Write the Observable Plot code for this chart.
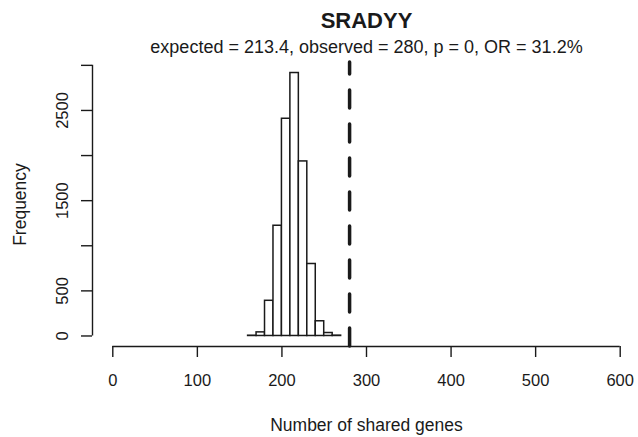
<!DOCTYPE html>
<html>
<head>
<meta charset="utf-8">
<script src="https://cdn.jsdelivr.net/npm/d3@7"></script>
<script src="https://cdn.jsdelivr.net/npm/@observablehq/plot@0.6"></script>
<style>
  html, body { margin: 0; padding: 0; background: #fff; }
  svg { display: block; }
</style>
</head>
<body>
<div id="chart"></div>
<script>
// ---- data ----
const title = "SRADYY";
const subtitle = "expected = 213.4, observed = 280, p = 0, OR = 31.2%";
const xLabel = "Number of shared genes";
const yLabel = "Frequency";
const binLo  = [160, 170, 180, 190, 200, 210, 220, 230, 240, 250, 260];
const binHi  = [170, 180, 190, 200, 210, 220, 230, 240, 250, 260, 270];
const counts = [3, 40, 390, 1222, 2408, 2915, 1935, 798, 163, 33, 4];
const observed = [280];
const xTicks = [0, 100, 200, 300, 400, 500, 600];
const yTicks = [0, 500, 1000, 1500, 2000, 2500, 3000];
const yTickLabels = [0, 500, 1500, 2500];

// ---- build ----
const bins = binLo.map((lo, i) => ({lo, hi: binHi[i], count: counts[i]}));
const xMin = d3.min(xTicks), xMax = d3.max(xTicks);
const xPad = 0.04 * (xMax - xMin);
const xDomain = [xMin - xPad, xMax + xPad];
const yMax = d3.max(counts);
const yDomain = [-0.04 * yMax, 1.04 * yMax];
const font = "'Liberation Sans', Arial, Helvetica, sans-serif";
const ink = "#1a1a1a";

const chart = Plot.plot({
  width: 638,
  height: 437,
  marginLeft: 92,
  marginRight: -2,
  marginTop: 62,
  marginBottom: 91,
  style: {fontFamily: font, color: ink, background: "#fff", overflow: "visible"},
  x: {domain: xDomain},
  y: {domain: yDomain},
  marks: [
    Plot.rect(bins, {x1: "lo", x2: "hi", y1: 0, y2: "count", fill: "white", stroke: ink, strokeWidth: 1.5}),
    Plot.ruleX(observed, {x: d => d, y1: yDomain[0], y2: yDomain[1], stroke: ink, strokeWidth: 3.5, strokeDasharray: "18,16", strokeLinecap: "round"}),
    // x axis
    Plot.ruleY([yDomain[0]], {x1: xMin, x2: xMax, stroke: ink, strokeWidth: 1.4}),
    Plot.axisX({ticks: xTicks, tickSize: 11, tickFormat: () => "", label: null, strokeWidth: 1.4}),
    Plot.text(xTicks, {x: d => d, y: yDomain[0], text: d => String(d), dy: 34, fontSize: 16.5, lineAnchor: "middle", fill: ink}),
    // y axis
    Plot.ruleX([xDomain[0]], {y1: d3.min(yTicks), y2: d3.max(yTicks), stroke: ink, strokeWidth: 1.4}),
    Plot.axisY({ticks: yTicks, tickSize: 11, tickFormat: () => "", label: null, strokeWidth: 1.4}),
    Plot.text(yTickLabels, {x: xDomain[0], y: d => d, text: d => String(d), rotate: -90, dx: -30, fontSize: 16.5, lineAnchor: "middle", textAnchor: "middle", fill: ink}),
    // titles & labels
    Plot.text([title], {frameAnchor: "top", dy: -42, fontSize: 22, fontWeight: "bold", lineAnchor: "middle", fill: ink}),
    Plot.text([subtitle], {frameAnchor: "top", dy: -15, fontSize: 18, lineAnchor: "middle", fill: ink}),
    Plot.text([xLabel], {frameAnchor: "bottom", dy: 79, fontSize: 17.5, lineAnchor: "middle", fill: ink}),
    Plot.text([yLabel], {frameAnchor: "left", dx: -72, rotate: -90, fontSize: 17.5, lineAnchor: "middle", textAnchor: "middle", fill: ink})
  ]
});
document.getElementById("chart").appendChild(chart);
</script>
</body>
</html>
